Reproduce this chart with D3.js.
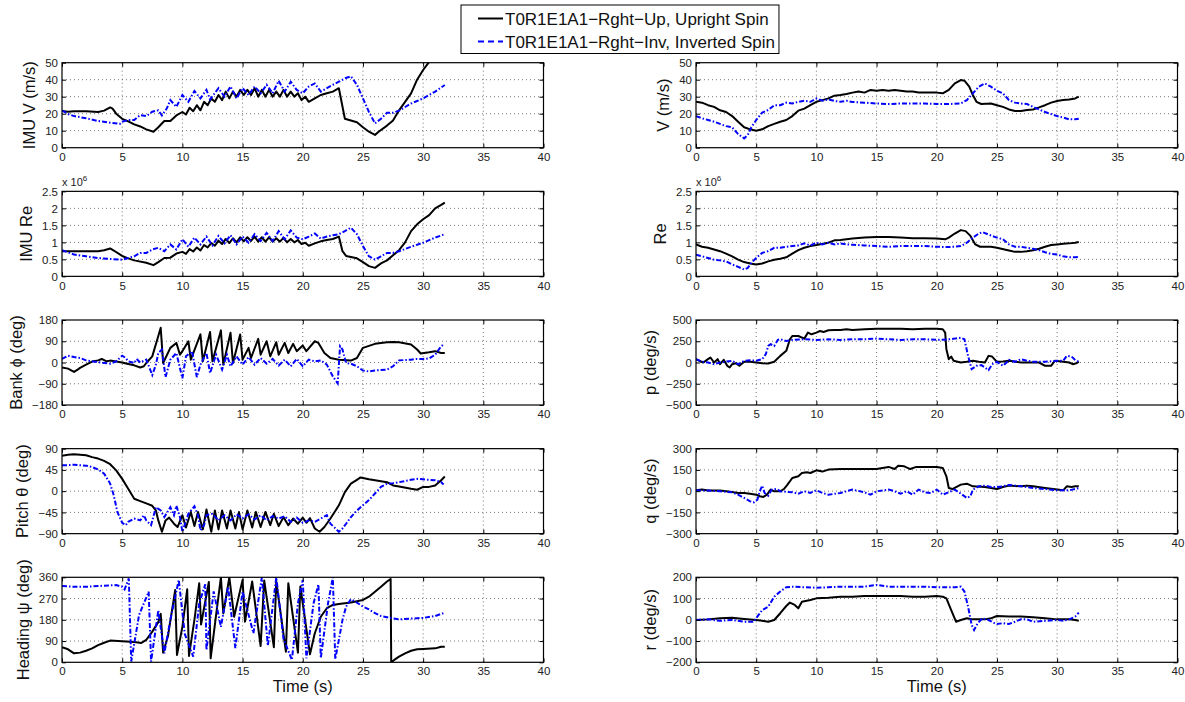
<!DOCTYPE html>
<html>
<head>
<meta charset="utf-8">
<script src="https://cdn.jsdelivr.net/npm/d3@7"></script>
<style>
  body { margin: 0; background: #fff; }
  text { font-family: "Liberation Sans", Arial, sans-serif; }
</style>
</head>
<body>
<div id="chart"></div>
<script>
// Flight data: [time (s), value]
// left column
var imuVUp = [[0,21.6],[0.5,21.2],[1,21.5],[2,21.5],[3,21],[3.5,21.8],[4,23.7],[4.2,23],[4.5,20],[5,17],[5.5,15.5],[6,13.7],[6.5,12.5],[7,10.8],[7.6,9.4],[8,12],[8.5,15.7],[9,15.7],[9.5,19],[10,21],[10.3,19.5],[10.6,23.5],[10.9,21.5],[11.2,25],[11.5,22],[11.8,27],[12.1,25],[12.4,29],[12.7,27],[13,31],[13.3,28],[13.6,33],[13.9,29],[14.2,33],[14.5,30],[14.8,34],[15.1,31],[15.4,34],[15.7,31],[16,35],[16.3,30],[16.6,34],[16.9,30],[17.2,34],[17.5,30],[17.8,33],[18.1,30],[18.4,34],[18.7,30],[19,33],[19.3,30],[19.6,32],[19.9,28],[20.2,30],[20.5,27],[21,29],[21.5,31],[22,32],[22.5,33],[23,35],[23.5,17],[24,16],[24.5,15],[25,12],[25.5,9.4],[26,7.5],[26.3,9.4],[27,13],[27.5,16],[28,22],[28.5,27],[29,32],[29.5,40],[30,45.7],[30.5,50.5],[31,55],[31.5,60],[31.8,64]];
var imuVInv = [[0,22],[0.5,19.8],[1,18.6],[2,17.3],[3,15.7],[4,14.7],[4.8,14],[5,15.3],[5.5,16.3],[6,16.3],[6.5,19.2],[7,18.6],[7.5,21.2],[8,22],[8.3,19],[8.7,23],[9,28],[9.5,24],[10,31],[10.5,27],[11,33.3],[11.5,29],[12,34],[12.3,28.4],[13,35],[13.5,30],[14,36],[14.5,29],[15,35],[15.5,31],[16,36],[16.5,32],[17,37],[17.5,32],[18,39.4],[18.5,33],[19,38.8],[19.5,34],[20,32],[20.5,36],[21,37.8],[21.5,33],[22,35],[22.5,37],[23,38.8],[23.5,40.8],[24,42],[24.5,37],[25,29],[25.5,21],[26,14.3],[26.5,17],[27,20.6],[27.5,20.6],[28,21.8],[29,26],[30,29],[31,33],[31.8,36.9]];
var imuReUp = [[0,0.74],[1,0.74],[2,0.74],[3,0.74],[3.5,0.77],[4,0.82],[4.3,0.76],[5,0.6],[5.5,0.53],[6,0.47],[7,0.4],[7.6,0.33],[8,0.42],[8.5,0.54],[9,0.55],[9.5,0.67],[10,0.72],[10.3,0.66],[10.6,0.8],[10.9,0.73],[11.2,0.85],[11.5,0.76],[11.8,0.92],[12.1,0.85],[12.4,0.98],[12.7,0.9],[13,1.05],[13.3,0.95],[13.6,1.1],[13.9,0.98],[14.2,1.12],[14.5,1.0],[14.8,1.15],[15.1,1.03],[15.4,1.15],[15.7,1.04],[16,1.17],[16.3,1.02],[16.6,1.15],[16.9,1.02],[17.2,1.15],[17.5,1.02],[17.8,1.12],[18.1,1.02],[18.4,1.13],[18.7,1.0],[19,1.1],[19.3,1.0],[19.6,1.07],[19.9,0.95],[20.2,0.99],[20.5,0.9],[21,0.97],[21.5,1.03],[22,1.07],[22.5,1.1],[23,1.17],[23.3,0.74],[23.6,0.6],[24,0.57],[24.5,0.53],[25,0.42],[25.5,0.3],[26,0.25],[26.5,0.38],[27,0.47],[27.5,0.62],[28,0.77],[28.5,1.0],[29,1.33],[29.5,1.53],[30,1.68],[30.5,1.8],[31,2.0],[31.5,2.1],[31.8,2.17]];
var imuReInv = [[0,0.77],[1,0.64],[2,0.59],[3,0.54],[4,0.51],[5,0.49],[5.5,0.54],[6,0.59],[6.5,0.69],[7,0.69],[7.5,0.79],[8,0.84],[8.5,0.74],[9,0.94],[9.5,0.79],[10,1.09],[10.5,0.87],[11,1.14],[11.5,0.94],[12,1.17],[12.5,0.91],[13,1.19],[13.5,0.97],[14,1.21],[14.5,0.94],[15,1.17],[15.5,0.99],[16,1.24],[16.5,1.04],[17,1.28],[17.5,1.04],[18,1.33],[18.5,1.09],[19,1.35],[19.5,1.14],[20,1.09],[20.5,1.17],[21,1.26],[21.5,1.11],[22,1.17],[22.5,1.21],[23,1.24],[23.5,1.33],[24,1.43],[24.5,1.24],[25,0.89],[25.5,0.59],[26,0.49],[26.5,0.59],[27,0.69],[27.5,0.69],[28,0.74],[29,0.87],[30,0.99],[31,1.14],[31.8,1.24]];
var bankUp = [[0,-21],[0.5,-26],[1,-40],[1.3,-30],[1.5,-23],[2,-9],[2.5,4],[3,9],[3.3,15],[3.7,5],[4,8],[4.5,4],[5,0],[5.5,-6],[6,-12],[6.5,-21],[6.8,-16],[7,-2],[7.5,26],[8,112],[8.2,147],[8.4,-2],[8.6,19],[9,62],[9.5,83],[9.8,33],[10,48],[10.5,90],[10.7,12],[11.5,119],[11.7,5],[12.3,129],[12.5,5],[13.2,136],[13.4,-9],[14,126],[14.2,-2],[14.8,119],[15,12],[15.5,62],[15.7,19],[16.3,100],[16.5,33],[17,90],[17.3,26],[17.8,86],[18,33],[18.5,83],[18.8,40],[19.2,79],[19.5,48],[20,72],[20.3,48],[21,90],[21.3,83],[21.8,40],[22.3,19],[23,12],[24,8],[24.5,19],[25,62],[26,79],[27,86],[27.5,87],[28,86],[29,76],[29.5,55],[29.8,38],[30.5,43],[31,48],[31.5,40],[31.8,40]];
var bankInv = [[0,15],[0.5,29],[1,23],[1.5,19],[2,9],[3,1],[3.5,-2],[4,-5],[4.5,5],[5,29],[5.3,19],[5.5,5],[6,-2],[6.2,15],[6.5,0],[7,12],[7.5,-53],[7.8,-9],[8,40],[8.3,55],[8.6,-62],[9,12],[9.5,40],[10,-67],[10.3,26],[10.8,48],[11.2,-62],[11.5,-9],[12,40],[12.3,-45],[12.8,33],[13.3,-30],[13.7,33],[14,-16],[14.5,26],[15,-9],[15.5,23],[16,-9],[16.5,19],[17,-5],[17.5,15],[18,-13],[18.5,12],[19,-16],[19.5,15],[20,-16],[20.5,12],[21,5],[21.5,9],[22,-9],[22.5,-59],[22.9,-88],[23.1,69],[23.3,55],[23.6,-2],[24,-5],[24.5,-16],[25,-34],[25.5,-38],[26,-34],[27,-30],[27.5,-16],[28,9],[29,12],[29.5,15],[30,15],[30.5,17],[31,33],[31.5,69],[31.7,76]];
var pitchUp = [[0,75],[0.5,77],[1,78],[2,76],[2.5,72],[3,69],[3.5,64],[4,57],[4.5,44],[5,26],[5.5,5],[6,-16],[6.5,-21],[7,-26],[7.5,-31],[7.8,-41],[8,-62],[8.3,-86],[8.6,-62],[8.9,-56],[9.3,-69],[9.6,-76],[10,-51],[10.3,-77],[10.7,-44],[11,-74],[11.3,-44],[11.7,-81],[12,-39],[12.4,-86],[12.7,-41],[13,-81],[13.3,-41],[13.7,-79],[14,-41],[14.4,-79],[14.7,-44],[15,-81],[15.4,-41],[15.8,-77],[16.1,-44],[16.5,-76],[16.9,-44],[17.3,-72],[17.6,-48],[18,-74],[18.4,-55],[18.8,-72],[19.2,-58],[19.6,-69],[20,-56],[20.3,-67],[20.6,-57],[21,-79],[21.4,-86],[21.8,-76],[22.3,-58],[23,-30],[23.5,-2],[24,16],[24.5,24],[24.8,29],[25.5,25],[26,23],[27,19],[27.5,12],[28,10],[29,5],[29.5,3],[30,9],[30.5,9],[31,12],[31.5,23],[31.8,31]];
var pitchInv = [[0,55],[0.5,55],[1,56],[2,54],[2.5,51],[3,46],[3.5,37],[4,16],[4.3,-9],[4.6,-44],[5,-67],[5.3,-72],[5.5,-65],[6,-58],[6.5,-62],[6.8,-51],[7,-62],[7.4,-72],[7.8,-34],[8.2,-41],[8.5,-55],[9,-34],[9.3,-51],[9.5,-31],[9.8,-55],[10,-86],[10.5,-48],[11,-32],[11.3,-51],[11.5,-83],[11.8,-72],[12,-51],[12.5,-48],[13,-62],[13.5,-51],[14,-62],[14.5,-49],[15,-58],[15.5,-49],[16,-60],[16.5,-51],[17,-62],[17.5,-53],[18,-58],[18.5,-53],[19,-65],[19.5,-56],[20,-67],[20.5,-62],[21,-65],[21.5,-58],[22,-51],[22.3,-69],[22.6,-76],[23,-86],[23.3,-79],[23.6,-69],[24,-55],[24.5,-41],[25,-30],[25.5,-19],[26,-5],[26.5,9],[27,16],[27.5,17],[28,19],[29,24],[29.5,26],[30,25],[31,23],[31.5,19],[31.7,14]];
var headingUp = [[0,64],[0.5,55],[1,38],[1.5,41],[2,49],[2.5,59],[3,73],[3.5,83],[4,92],[5,89],[6,86],[6.6,82],[7,95],[7.5,130],[8,170],[8.2,205],[8.4,41],[8.8,110],[9.4,306],[9.55,31],[10,150],[10.4,309],[10.55,27],[11,180],[11.4,335],[11.55,160],[12.2,340],[12.35,17],[12.8,200],[13.2,360],[13.4,207],[13.9,360],[14.3,193],[15,349],[15.2,172],[15.8,342],[16.5,69],[16.8,346],[17.6,64],[17.8,342],[18.6,45],[18.8,335],[19.6,41],[19.8,321],[20.6,34],[21,123],[21.5,193],[22,229],[22.5,243],[23,247],[24,253],[25,264],[25.5,278],[26,299],[26.5,320],[27,342],[27.3,353],[27.35,0],[27.6,10],[28,24],[28.5,38],[29,49],[29.5,55],[30,56],[31,59],[31.5,66],[31.8,66]];
var headingInv = [[0,323],[1,320],[2,320],[3,323],[4,326],[4.5,327],[5,320],[5.2,309],[5.4,335],[5.55,355],[5.75,3],[6.4,200],[7.2,299],[7.4,3],[8,220],[8.5,38],[9,180],[9.7,349],[10.2,120],[10.9,24],[11.4,250],[11.9,330],[12,52],[12.6,300],[13.2,150],[13.8,320],[14.4,60],[15,300],[15.9,123],[16.6,360],[17.1,70],[17.8,360],[18.4,100],[19.1,10],[19.6,250],[20,349],[20.3,17],[20.9,250],[21.3,330],[21.5,17],[22.1,250],[22.5,360],[22.7,13],[23,95],[23.3,179],[23.6,236],[24,267],[24.5,253],[25,236],[25.5,224],[26,208],[26.5,196],[27,191],[27.5,186],[28,182],[29,185],[30,188],[31,196],[31.5,205],[31.8,210]];
// right column
var vUp = [[0,27],[0.5,26.5],[1,25],[1.5,24],[2,22],[2.5,21],[3,18.6],[3.5,15.3],[4,12],[4.5,10.8],[5,10],[5.5,10.8],[6,12.7],[6.5,14],[7,15.3],[7.5,16.3],[8,18.6],[8.5,21.8],[9,23],[9.5,25],[10,27],[10.5,28],[11,29],[11.5,30.6],[12,31],[12.5,31.6],[13,32.4],[13.5,33],[14,32.4],[14.5,34],[15,33.5],[15.5,34],[16,33.5],[16.5,34],[17,33.5],[17.5,33],[18,33],[18.5,32.5],[19,32.5],[19.5,32.4],[20,32.4],[20.5,32],[21,34],[21.5,37.8],[22,39.8],[22.3,39.4],[22.7,35.9],[23,31],[23.3,27],[23.7,25.7],[24.5,26],[25,25],[25.5,24],[26,22.5],[26.5,21.6],[27,21.6],[27.5,22.2],[28,22.5],[28.5,23.7],[29,25],[29.5,26.5],[30,27.5],[30.5,28],[31,28.4],[31.5,29],[31.8,30]];
var vInv = [[0,18.6],[0.5,17.3],[1,16.3],[1.5,15.3],[2,14],[2.5,12.7],[3,12],[3.5,8],[4,5.5],[4.3,7.5],[4.6,12],[5,16.3],[5.5,20.6],[6,22.2],[6.5,25],[7,25],[7.5,26.5],[8,26],[8.5,27],[9,27.6],[9.5,27],[10,29],[10.5,27.6],[11,28.4],[11.5,27.5],[12,27],[12.5,27.6],[13,26.9],[14,26.5],[15,26],[16,25.7],[17,26],[18,26],[19,26],[20,25.7],[21,25.7],[22,26],[22.5,28],[23,32],[23.5,35.9],[24,37.8],[24.5,35.9],[25,33.5],[25.5,32],[26,28],[26.5,26.5],[27,26],[27.5,25.7],[28,24],[28.5,22.5],[29,21],[29.5,19.8],[30,18.6],[30.5,17.8],[31,16.7],[31.5,16.7],[31.8,17]];
var reUp = [[0,0.94],[0.5,0.87],[1,0.84],[1.5,0.79],[2,0.74],[2.5,0.67],[3,0.59],[3.5,0.49],[4,0.42],[4.5,0.38],[5,0.35],[5.5,0.38],[6,0.44],[6.5,0.49],[7,0.52],[7.5,0.56],[8,0.67],[8.5,0.77],[9,0.84],[9.5,0.89],[10,0.92],[11,0.99],[11.5,1.06],[12,1.07],[13,1.11],[14,1.14],[15,1.16],[16,1.16],[17,1.14],[18,1.12],[19,1.12],[20,1.11],[20.7,1.09],[21,1.14],[21.5,1.26],[22,1.36],[22.4,1.33],[22.8,1.19],[23.2,0.94],[23.6,0.87],[24.5,0.87],[25,0.84],[26,0.76],[26.5,0.72],[27,0.72],[27.5,0.74],[28,0.77],[28.5,0.81],[29,0.87],[29.5,0.92],[30,0.94],[30.5,0.96],[31,0.97],[31.5,0.99],[31.8,1.01]];
var reInv = [[0,0.64],[0.5,0.59],[1,0.54],[1.5,0.49],[2,0.47],[2.5,0.44],[3,0.35],[3.5,0.28],[4,0.2],[4.3,0.25],[4.6,0.4],[5,0.54],[5.5,0.69],[6,0.74],[6.5,0.84],[7,0.84],[7.5,0.87],[8,0.89],[8.5,0.91],[9,0.97],[9.5,0.91],[10,0.99],[10.5,0.94],[11,0.99],[11.5,0.94],[12,0.97],[12.5,0.94],[13,0.93],[14,0.91],[15,0.89],[16,0.87],[17,0.89],[18,0.89],[19,0.89],[20,0.87],[21,0.86],[22,0.89],[22.5,0.99],[23,1.14],[23.5,1.26],[23.8,1.3],[24.5,1.2],[25,1.14],[25.5,1.09],[26,0.94],[26.5,0.87],[27,0.87],[27.5,0.84],[28,0.81],[28.5,0.77],[29,0.71],[29.5,0.66],[30,0.64],[30.5,0.59],[31,0.56],[31.5,0.56],[31.8,0.57]];
var pUp = [[0,39],[0.3,20],[0.6,0],[1,39],[1.2,59],[1.5,0],[1.8,39],[2,-20],[2.3,31],[2.6,-39],[2.8,-59],[3,-20],[3.3,-8],[3.6,-39],[4,8],[4.5,8],[5,0],[5.5,-8],[6,-12],[6.5,8],[7,78],[7.5,137],[7.8,273],[8,312],[8.5,312],[9,281],[9.3,352],[9.6,332],[10,352],[10.3,371],[10.6,359],[11,379],[11.5,383],[12,383],[12.5,391],[13,383],[14,391],[15,398],[16,398],[17,398],[18,391],[19,398],[20,398],[20.5,391],[20.7,352],[20.8,156],[21,39],[21.2,70],[21.4,20],[22,0],[22.5,8],[23,20],[23.5,8],[24,0],[24.3,78],[24.6,70],[25,8],[25.5,12],[26,20],[27,0],[28,0],[28.5,0],[29,-39],[29.5,-39],[29.8,20],[30.5,8],[31,0],[31.3,-20],[31.6,-8],[31.8,8]];
var pInv = [[0,39],[0.5,8],[1,0],[1.5,-20],[2,0],[3,20],[3.5,-20],[4,20],[4.5,27],[5,20],[5.5,39],[5.8,98],[6,195],[6.2,215],[6.5,195],[6.8,266],[7,273],[7.5,254],[8,266],[9,273],[10,266],[11,273],[12,266],[13,273],[14,273],[15,281],[16,273],[17,266],[18,273],[19,273],[20,266],[21,273],[21.5,281],[22,293],[22.3,273],[22.6,78],[22.9,-78],[23.3,-39],[23.7,-31],[24,-59],[24.3,-90],[24.6,-20],[25,8],[25.5,-39],[25.8,0],[26,31],[26.5,8],[27,39],[27.5,20],[28,8],[29,8],[30,20],[30.5,20],[30.8,78],[31.2,70],[31.5,31],[31.8,8]];
var qUp = [[0,6],[0.5,11],[1,4],[2,4],[3,-6],[3.5,-13],[4,-13],[4.5,-18],[5,-25],[5.3,-36],[5.6,-41],[5.9,-25],[6.2,11],[6.5,-1],[7,-1],[7.3,15],[7.6,46],[8,93],[8.5,105],[8.8,128],[9.2,133],[9.5,128],[10,147],[10.5,138],[11,152],[12,156],[13,156],[14,156],[15,156],[15.5,164],[16,171],[16.5,156],[16.8,180],[17.3,175],[17.8,156],[18.3,171],[19,171],[20,171],[20.5,164],[20.8,105],[21,22],[21.3,15],[22,46],[22.5,53],[23,34],[24,29],[25,15],[25.5,29],[26,39],[27,34],[27.5,39],[28,34],[29,22],[30,11],[30.5,6],[30.8,34],[31.2,29],[31.5,34],[31.8,34]];
var qInv = [[0,6],[1,4],[2,-1],[3,-8],[3.5,-25],[4,-48],[4.5,-72],[4.8,-79],[5.1,-60],[5.3,-1],[5.5,39],[5.7,-13],[6,-32],[6.3,11],[6.7,15],[7,-1],[8,-8],[8.5,-18],[9,-1],[9.5,-13],[10,6],[10.5,-13],[11,-25],[12,-13],[13,11],[14,-8],[14.5,-25],[15,-1],[16,11],[16.5,-1],[17,-18],[17.5,-1],[18,-25],[18.5,11],[19,-8],[19.5,-13],[20,11],[20.5,-25],[21,-8],[21.5,11],[22,-18],[22.5,-48],[22.8,-36],[23,11],[23.5,34],[24,39],[24.5,29],[25,29],[25.5,34],[26,44],[27,34],[28,22],[29,15],[30,6],[31,6],[31.5,15],[31.8,22]];
var rUp = [[0,-1],[1,2],[2,7],[3,10],[4,4],[5,-1],[5.5,-5],[6,-9],[6.5,-1],[7,31],[7.5,65],[7.8,81],[8.2,70],[8.5,54],[8.8,85],[9.2,90],[9.5,93],[10,101],[11,104],[12,109],[13,109],[14,112],[15,112],[16,112],[17,112],[18,109],[19,109],[20,112],[20.5,109],[20.8,101],[21.2,46],[21.6,-9],[22,-1],[22.5,7],[23,2],[24,2],[24.5,7],[25,18],[26,15],[27,15],[28,12],[29,7],[30,2],[31,2],[31.5,-1],[31.8,-4]];
var rInv = [[0,-1],[1,2],[2,-5],[3,-1],[4,-9],[4.8,-9],[5.2,23],[5.5,46],[6,62],[6.5,109],[7,133],[7.5,153],[8,156],[9,153],[10,151],[11,153],[12,156],[13,156],[14,156],[15,164],[16,156],[17,156],[18,156],[19,156],[20,153],[21,153],[21.5,153],[22,156],[22.3,133],[22.6,62],[22.9,-24],[23.1,-48],[23.4,-16],[23.8,7],[24.3,-1],[24.8,-16],[25,-20],[25.5,-16],[26,-20],[26.5,-9],[27,2],[27.5,2],[28,-9],[29,-5],[30,-1],[30.5,-4],[31,2],[31.5,15],[31.8,34]];

// axis ticks
var timeTicks = [0, 5, 10, 15, 20, 25, 30, 35, 40];
var vTicks = [0, 10, 20, 30, 40, 50];
var reTicks = [0, 0.5, 1, 1.5, 2, 2.5];
var bankTicks = [-180, -90, 0, 90, 180];
var pitchTicks = [-90, -45, 0, 45, 90];
var headingTicks = [0, 90, 180, 270, 360];
var pTicks = [-500, -250, 0, 250, 500];
var qTicks = [-300, -150, 0, 150, 300];
var rTicks = [-200, -100, 0, 100, 200];

var legendLabels = ["T0R1E1A1\u2212Rght\u2212Up, Upright Spin", "T0R1E1A1\u2212Rght\u2212Inv, Inverted Spin"];

// panel table: col, row, label, series, ticks
var panels = [
  {col: 0, row: 0, label: "IMU V (m/s)", up: imuVUp, inv: imuVInv, ticks: vTicks},
  {col: 0, row: 1, label: "IMU Re", up: imuReUp, inv: imuReInv, ticks: reTicks, exp: true},
  {col: 0, row: 2, label: "Bank \u03d5 (deg)", up: bankUp, inv: bankInv, ticks: bankTicks},
  {col: 0, row: 3, label: "Pitch \u03b8 (deg)", up: pitchUp, inv: pitchInv, ticks: pitchTicks},
  {col: 0, row: 4, label: "Heading \u03c8 (deg)", up: headingUp, inv: headingInv, ticks: headingTicks, xlabel: true},
  {col: 1, row: 0, label: "V (m/s)", up: vUp, inv: vInv, ticks: vTicks},
  {col: 1, row: 1, label: "Re", up: reUp, inv: reInv, ticks: reTicks, exp: true},
  {col: 1, row: 2, label: "p (deg/s)", up: pUp, inv: pInv, ticks: pTicks},
  {col: 1, row: 3, label: "q (deg/s)", up: qUp, inv: qInv, ticks: qTicks},
  {col: 1, row: 4, label: "r (deg/s)", up: rUp, inv: rInv, ticks: rTicks, xlabel: true}
];

// Layout
var colLeft = [62, 696],
    rowTop = [62.7, 191.35, 320, 448.65, 577.3],
    plotW = 481.5,
    plotH = 85;

var svg = d3.select("#chart")
  .append("svg")
  .attr("width", 1185)
  .attr("height", 702);

var defs = svg.append("defs");

var x = d3.scaleLinear().domain([0, 40]).range([0, plotW]);

var fmtTick = function(d) { return d < 0 ? "\u2212" + Math.abs(d) : String(d); };

panels.forEach(function(p, i) {
  var g = svg.append("g")
    .attr("transform", "translate(" + colLeft[p.col] + "," + rowTop[p.row] + ")");

  var y = d3.scaleLinear()
    .domain([p.ticks[0], p.ticks[p.ticks.length - 1]])
    .range([plotH, 0]);

  // dotted grid
  g.append("g").selectAll("line")
    .data(timeTicks.slice(1, -1))
    .enter().append("line")
    .attr("x1", function(d) { return x(d); })
    .attr("x2", function(d) { return x(d); })
    .attr("y1", 0).attr("y2", plotH)
    .attr("stroke", "#555").attr("stroke-width", 0.8)
    .attr("stroke-dasharray", "1,3");
  g.append("g").selectAll("line")
    .data(p.ticks.slice(1, -1))
    .enter().append("line")
    .attr("y1", function(d) { return y(d); })
    .attr("y2", function(d) { return y(d); })
    .attr("x1", 0).attr("x2", plotW)
    .attr("stroke", "#555").attr("stroke-width", 0.8)
    .attr("stroke-dasharray", "1,3");

  // clip so lines stay inside the axes
  defs.append("clipPath").attr("id", "clip" + i)
    .append("rect").attr("width", plotW).attr("height", plotH);

  var line = d3.line()
    .x(function(d) { return x(d[0]); })
    .y(function(d) { return y(d[1]); });

  var lines = g.append("g").attr("clip-path", "url(#clip" + i + ")");
  lines.append("path")
    .datum(p.up)
    .attr("d", line)
    .attr("fill", "none")
    .attr("stroke", "#000")
    .attr("stroke-width", 2)
    .attr("stroke-linejoin", "round");
  lines.append("path")
    .datum(p.inv)
    .attr("d", line)
    .attr("fill", "none")
    .attr("stroke", "#0000ff")
    .attr("stroke-width", 2)
    .attr("stroke-dasharray", "5,2,1.5,2");

  // axes, ticks pointing inwards like MATLAB
  var fontAttrs = function(sel) {
    sel.attr("font-size", 11.5).attr("font-family", "Liberation Sans, Arial, sans-serif");
    sel.select(".domain").remove();
    sel.selectAll("text").attr("fill", "#222");
  };
  g.append("g")
    .attr("transform", "translate(0," + plotH + ")")
    .call(d3.axisBottom(x).tickValues(timeTicks).tickSize(-4).tickPadding(5))
    .call(fontAttrs);
  g.append("g")
    .call(d3.axisTop(x).tickValues(timeTicks).tickSize(-4).tickFormat(""))
    .call(fontAttrs);
  var yAxis = g.append("g")
    .call(d3.axisLeft(y).tickValues(p.ticks).tickSize(-4).tickPadding(4).tickFormat(fmtTick))
    .call(fontAttrs);
  g.append("g")
    .attr("transform", "translate(" + plotW + ",0)")
    .call(d3.axisRight(y).tickValues(p.ticks).tickSize(-4).tickFormat(""))
    .call(fontAttrs);

  g.append("rect")
    .attr("width", plotW).attr("height", plotH)
    .attr("fill", "none").attr("stroke", "#000").attr("stroke-width", 1.2);

  // y label placed left of the widest tick label
  var maxW = 0;
  yAxis.selectAll("text").each(function() { maxW = Math.max(maxW, this.getBBox().width); });
  g.append("text")
    .attr("transform", "translate(" + (-4 - maxW - 10) + "," + (plotH / 2) + ")rotate(-90)")
    .attr("text-anchor", "middle")
    .attr("font-size", 16.5)
    .attr("fill", "#111")
    .text(p.label);

  if (p.exp) {
    var t = g.append("text")
      .attr("x", 0).attr("y", -5)
      .attr("font-size", 11)
      .attr("fill", "#222")
      .text("x 10");
    t.append("tspan").attr("dy", -5).attr("font-size", 8).text("6");
  }

  if (p.xlabel) {
    g.append("text")
      .attr("x", plotW / 2)
      .attr("y", plotH + 30)
      .attr("text-anchor", "middle")
      .attr("font-size", 16.5)
      .attr("fill", "#111")
      .text("Time (s)");
  }
});

// Legend
var legend = svg.append("g");
var legendBox = legend.append("rect")
  .attr("x", 461).attr("y", 5).attr("height", 48.5)
  .attr("fill", "#fff").attr("stroke", "#000").attr("stroke-width", 1);
var styles = [{color: "#000", dash: null}, {color: "#0000ff", dash: "6,4"}];
var rightEdge = 0;
legendLabels.forEach(function(lab, i) {
  var yy = 18.5 + i * 23;
  legend.append("line")
    .attr("x1", 478).attr("x2", 503)
    .attr("y1", yy).attr("y2", yy)
    .attr("stroke", styles[i].color)
    .attr("stroke-width", 2)
    .attr("stroke-dasharray", styles[i].dash);
  var tx = legend.append("text")
    .attr("x", 505).attr("y", yy + 6)
    .attr("font-size", 17)
    .attr("fill", "#111")
    .text(lab);
  var bb = tx.node().getBBox();
  rightEdge = Math.max(rightEdge, bb.x + bb.width);
});
legendBox.attr("width", rightEdge + 4 - 461);
</script>
